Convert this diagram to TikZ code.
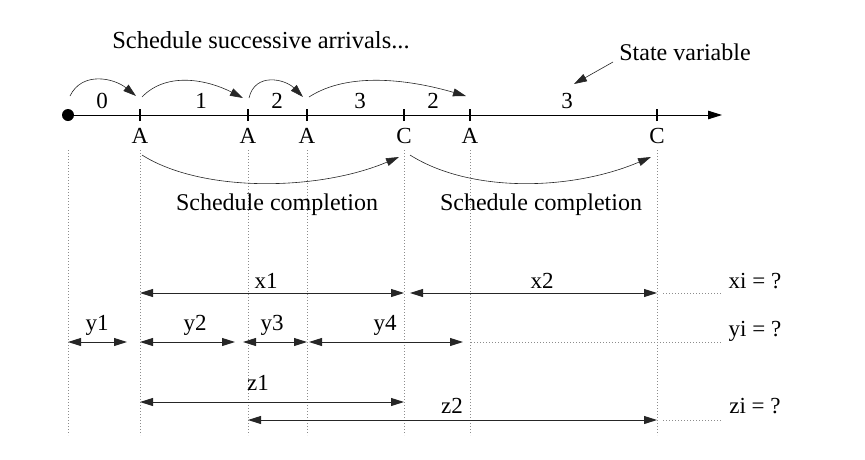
\documentclass[tikz,border=0pt]{standalone}
\usepackage{fontspec}
\setmainfont{Liberation Serif}
\usetikzlibrary{arrows.meta}
\begin{document}
\begin{tikzpicture}[x=1pt,y=-1pt,
  every node/.style={font=\fontsize{23}{27}\selectfont, inner sep=0pt},
  lbl/.style={anchor=base},
  big/.style={font=\fontsize{24.5}{29}\selectfont},
  mid/.style={font=\fontsize{24}{29}\selectfont},
  tip/.style={-{Triangle[length=13pt,width=8pt]}},
  dim/.style={{Triangle[length=13pt,width=8pt]}-{Triangle[length=13pt,width=8pt]}, line width=0.9pt, draw=black!85},
  arc/.style={tip, line width=0.6pt, draw=black!85},
  guide/.style={draw=black!45, line width=0.7pt, dash pattern=on 1pt off 2pt},
  tickmark/.style={line width=2.6pt}
]
\useasboundingbox (0,0) rectangle (865,459);

% tick positions
\coordinate (p0) at (68,115);
\coordinate (p1) at (140,115);
\coordinate (p2) at (248,115);
\coordinate (p3) at (307,115);
\coordinate (p4) at (404,115);
\coordinate (p5) at (470,115);
\coordinate (p6) at (657,115);
\coordinate (pend) at (722,115);

% dotted guides
\foreach \i in {0,...,6} {
  \draw[guide] ([yshift=-35pt]p\i) coordinate (g\i top) -- ([yshift=-320pt]p\i) coordinate (g\i bot);
}

% timeline
\draw[line width=1pt, -{Triangle[length=14pt,width=8.5pt]}] (p0) -- (pend);
\fill (p0) circle (6pt);
\foreach \i in {1,...,6} { \draw[tickmark] ([yshift=-6pt]p\i) -- ([yshift=6pt]p\i); }

% event labels
\node[lbl] (e1) at (140,143) {A};
\node[lbl] (e2) at (248,143) {A};
\node[lbl] (e3) at (307,143) {A};
\node[lbl] (e4) at (404,143) {C};
\node[lbl] (e5) at (470,143) {A};
\node[lbl] (e6) at (657,143) {C};

% state values
\node[lbl] (s0) at (102,108) {0};
\node[lbl] (s1) at (201,108) {1};
\node[lbl] (s2) at (277,108) {2};
\node[lbl] (s3) at (360,108) {3};
\node[lbl] (s4) at (433,108) {2};
\node[lbl] (s5) at (567,108) {3};

% titles
\node[lbl,big] (t1) at (261,48) {Schedule successive arrivals...};
\node[lbl,mid] (t2) at (685,60) {State variable};
\coordinate (svtip) at (574,84);
\draw[arc] (613,62) -- (svtip);

% arrival arcs
\coordinate (a0s) at (70,96);  \coordinate (a0e) at (136,96);
\coordinate (a1s) at (142,97); \coordinate (a1e) at (243,98);
\coordinate (a2s) at (249,98); \coordinate (a2e) at (303,97);
\coordinate (a3s) at (309,97); \coordinate (a3e) at (466,96);
\draw[arc] (a0s) .. controls +(12,-25) and +(-22,-18) .. (a0e);
\draw[arc] (a1s) .. controls +(25,-26) and +(-35,-18) .. (a1e);
\draw[arc] (a2s) .. controls +(6,-26) and +(-18,-18) .. (a2e);
\draw[arc] (a3s) .. controls +(40,-26) and +(-55,-16) .. (a3e);

% completion arcs
\coordinate (c0s) at (142,155); \coordinate (c0e) at (399,157);
\coordinate (c1s) at (410,155); \coordinate (c1e) at (651,157);
\draw[arc] (c0s) .. controls +(60,38) and +(-80,34) .. (c0e);
\draw[arc] (c1s) .. controls +(60,38) and +(-80,34) .. (c1e);
\node[lbl,mid] (sc1) at (277,210) {Schedule completion};
\node[lbl,mid] (sc2) at (541,210) {Schedule completion};

% x row
\coordinate (x1a) at (140,293); \coordinate (x1b) at (404,293);
\coordinate (x2a) at (410,293); \coordinate (x2b) at (657,293);
\draw[dim] (x1a) -- (x1b);
\draw[dim] (x2a) -- (x2b);
\node[lbl] (lx1) at (266,288) {x1};
\node[lbl] (lx2) at (542,288) {x2};
\coordinate (xd) at (722,293);
\draw[guide] (663,293) -- (xd);
\node[lbl] (xi) at (755,288) {xi = ?};

% y row
\coordinate (y1a) at (68,342);  \coordinate (y1b) at (127,342);
\coordinate (y2a) at (140,342); \coordinate (y2b) at (235,342);
\coordinate (y3a) at (243,342); \coordinate (y3b) at (307,342);
\coordinate (y4a) at (309,342); \coordinate (y4b) at (463,342);
\draw[dim] (y1a) -- (y1b);
\draw[dim] (y2a) -- (y2b);
\draw[dim] (y3a) -- (y3b);
\draw[dim] (y4a) -- (y4b);
\node[lbl] (ly1) at (97,330) {y1};
\node[lbl] (ly2) at (195,330) {y2};
\node[lbl] (ly3) at (272,330) {y3};
\node[lbl] (ly4) at (385,330) {y4};
\coordinate (yd) at (722,342);
\draw[guide] (471,342) -- (yd);
\node[lbl] (yi) at (755,336) {yi = ?};

% z row
\coordinate (z1a) at (140,402); \coordinate (z1b) at (404,402);
\coordinate (z2a) at (248,420); \coordinate (z2b) at (657,420);
\draw[dim] (z1a) -- (z1b);
\draw[dim] (z2a) -- (z2b);
\node[lbl] (lz1) at (258,390) {z1};
\node[lbl] (lz2) at (452,413) {z2};
\coordinate (zd) at (722,420);
\draw[guide] (663,420) -- (zd);
\node[lbl] (zi) at (755,413) {zi = ?};
\end{tikzpicture}
\end{document}
